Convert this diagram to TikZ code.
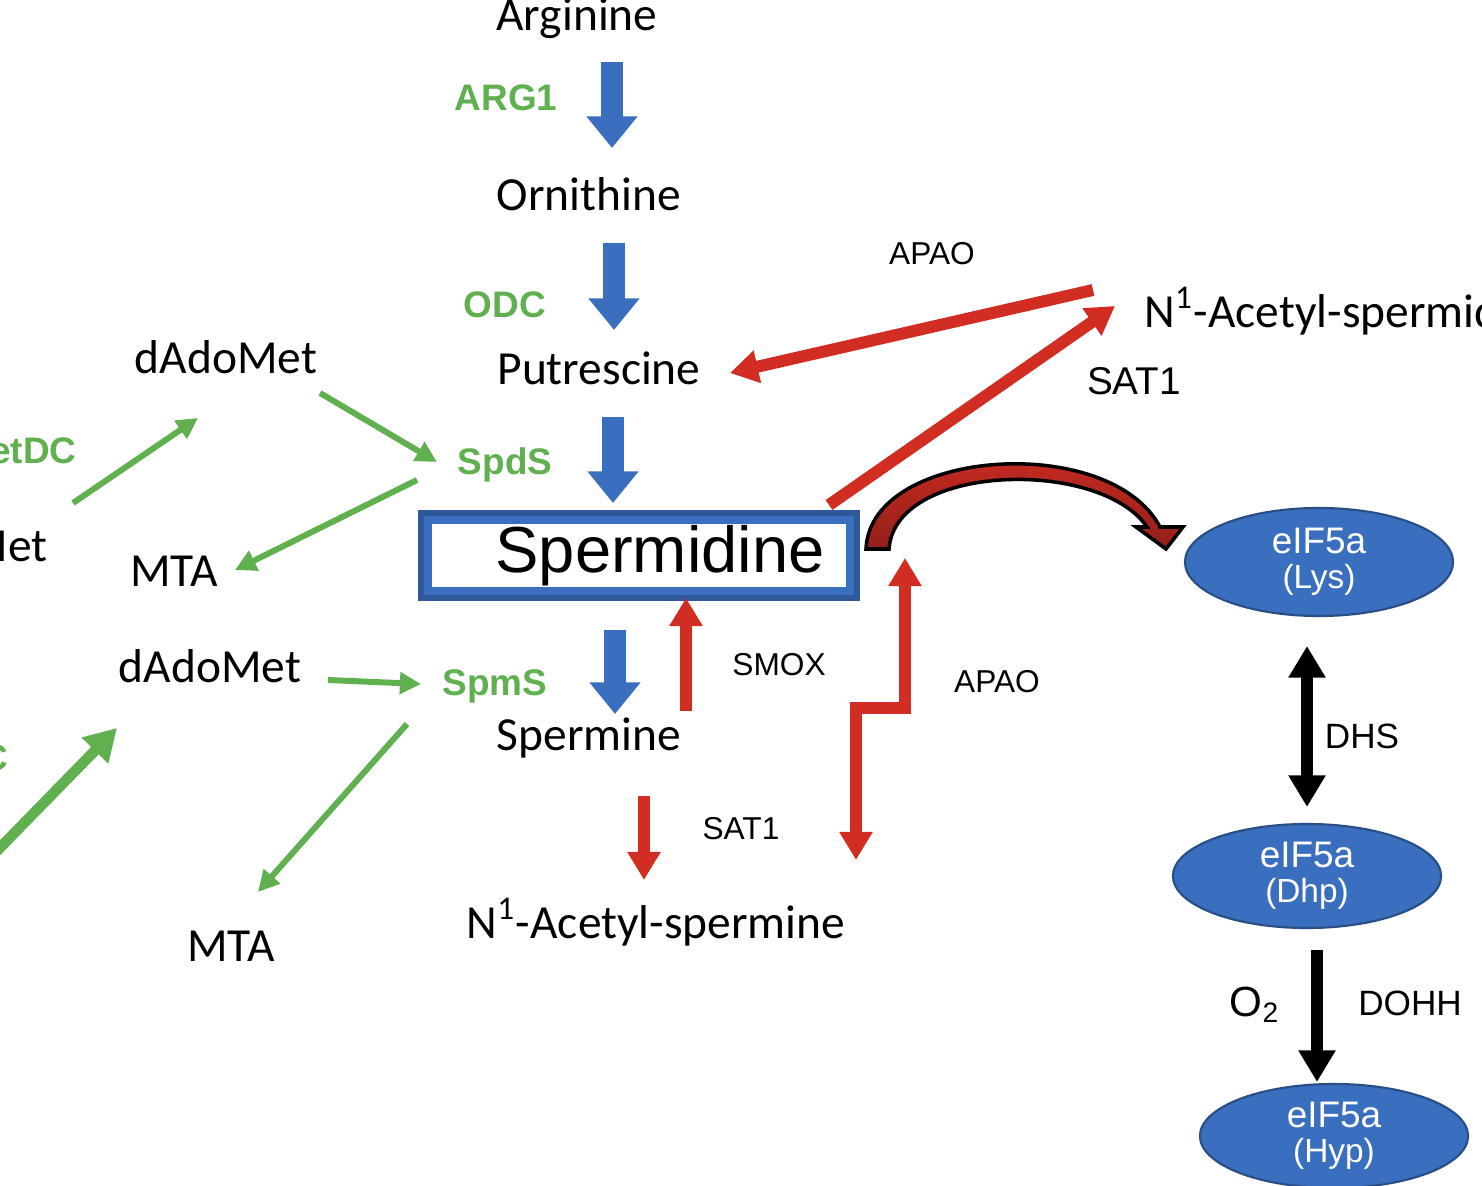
\documentclass[tikz,border=0pt]{standalone}
\usepackage{fontspec}
\setmainfont{Carlito}
\newfontfamily\arialf{Liberation Sans}
\usetikzlibrary{arrows.meta}
\definecolor{pblue}{RGB}{58,110,190}
\definecolor{pred}{RGB}{210,45,35}
\definecolor{pgreen}{RGB}{96,176,80}
\tikzset{
  met/.style={font=\fontsize{13.5}{15}\selectfont},
  enz/.style={font=\arialf\bfseries\fontsize{10.5}{12}\selectfont,text=pgreen},
  lab/.style={font=\arialf\fontsize{9}{11}\selectfont},
  bluearr/.style={pblue,line width=6.3pt,-{Triangle[width=14pt,length=9pt]}},
  redarr/.style={pred,line width=3.4pt,-{Triangle[width=9pt,length=8pt]}},
  grnarr/.style={pgreen,line width=1.7pt,-{Triangle[width=6pt,length=6pt]}},
  blkarr/.style={black,line width=3.4pt,-{Triangle[width=10pt,length=9pt]}},
  eif/.style={ellipse,fill=pblue,draw=pblue!70!black,line width=0.6pt,text=white,
    minimum width=2.68cm,minimum height=1.08cm,align=center,inner sep=0pt,
    font=\arialf\fontsize{10.5}{11}\selectfont}
}
\usetikzlibrary{shapes.geometric}
\begin{document}
\begin{tikzpicture}[x=0.01cm,y=-0.01cm]
\useasboundingbox (0,0) rectangle (1482,1186);
\clip (0,0) rectangle (1482,1186);
% main pathway
\node[met] (arg) at (577,18) {Arginine};
\node[met] (orn) at (589,194) {Ornithine};
\node[met] (put) at (599,368) {Putrescine};
\node[met] (spm) at (589,738) {Spermine};
\node[met] (acspm) at (656,922) {N\textsuperscript{1}-Acetyl-spermine};
\node[met,anchor=west] (acspd) at (1132,311) {N\textsuperscript{1}-Acetyl-spermidine};
\node[enz] (arg1) at (506,98) {ARG1};
\node[enz] (odc) at (505,305) {ODC};
\node[enz] (spds) at (505,465) {SpdS};
\node[enz] (spms) at (495,686) {SpmS};
\draw[pblue!80!black,line width=3pt,fill=white] (423,515) rectangle (855,596);
\draw[pblue,line width=2pt] (428,520) rectangle (850,591);
\node[font=\arialf\fontsize{18.5}{20}\selectfont] (spd) at (660,556) {Spermidine};
\foreach \a/\b/\c in {62/148/612,243/330/614,417/503/613,630/714/615}
  \draw[bluearr] (\c,\a) -- (\c,\b);
% back-conversion
\coordinate (smoxs) at (686,711); \coordinate (smoxe) at (686,598);
\draw[redarr] (smoxs) -- (smoxe);
\node[lab] (smox) at (779,665) {SMOX};
\coordinate (sat1s) at (644,796); \coordinate (sat1e) at (644,880);
\draw[redarr] (sat1s) -- (sat1e);
\node[lab] (sat1a) at (741,829) {SAT1};
\coordinate (apaoa) at (856,860); \coordinate (apaob) at (905,558);
\draw[redarr,{Triangle[width=9pt,length=8pt]}-{Triangle[width=9pt,length=8pt]},line join=miter]
  (apaoa) -- (856,708) -- (905,708) -- (apaob);
\node[lab] (apao1) at (997,682) {APAO};
\coordinate (apaoc) at (1093,290); \coordinate (apaod) at (730,373);
\draw[redarr] (apaoc) -- (apaod);
\node[lab] (apao2) at (932,254) {APAO};
\coordinate (sat1c) at (829,505); \coordinate (sat1d) at (1115,306);
\draw[redarr] (sat1c) -- (sat1d);
\node[lab,font=\arialf\fontsize{11}{12}\selectfont] (sat1b) at (1134,381) {SAT1};
% curved arrow
\draw[black,line width=1pt,top color=pred,bottom color=pred!70!black]
  (866,549) .. controls (870,448) and (1110,432) .. (1160,527)
  -- (1183,527) -- (1166,549) -- (1136,527) -- (1147,527)
  .. controls (1100,458) and (895,463) .. (889,549) -- cycle;
% eIF5a
\node[eif] (lys) at (1319,562) {eIF5a\\[-1pt]{\fontsize{9.5}{10}\selectfont(Lys)}};
\node[eif,minimum height=1.04cm] (dhp) at (1307,876) {eIF5a\\[-1pt]{\fontsize{9.5}{10}\selectfont(Dhp)}};
\node[eif,minimum height=1.04cm] (hyp) at (1334,1136) {eIF5a\\[-1pt]{\fontsize{9.5}{10}\selectfont(Hyp)}};
\draw[blkarr,{Triangle[width=10pt,length=9pt]}-{Triangle[width=10pt,length=9pt]}] (1307,646) -- (1307,807);
\node[lab,font=\arialf\fontsize{10}{12}\selectfont] (dhs) at (1362,736) {DHS};
\draw[blkarr] (1317,950) -- (1317,1082);
\node[font=\arialf\fontsize{12}{14}\selectfont] (o2) at (1255,1005) {O\textsubscript{2}};
\node[lab,font=\arialf\fontsize{10}{12}\selectfont] (dohh) at (1410,1003) {DOHH};
% aminopropyl donors
\node[met] (dam1) at (226,357) {dAdoMet};
\node[met] (mta1) at (174,571) {MTA};
\node[met] (dam2) at (210,666) {dAdoMet};
\node[met] (mta2) at (231,946) {MTA};
\node[enz,anchor=east] (amd1) at (89,450) {AdoMetDC};
\node[met,anchor=east] (sam1) at (60,545) {AdoMet};
\node[enz,anchor=east] (amd2) at (21,757) {AdoMetDC};
\coordinate (g1) at (320,393); \coordinate (g2) at (437,462);
\coordinate (g3) at (417,480); \coordinate (g4) at (235,570);
\coordinate (g5) at (73,503); \coordinate (g6) at (198,418);
\coordinate (g7) at (328,680); \coordinate (g8) at (421,684);
\coordinate (g9) at (407,724); \coordinate (g10) at (258,892);
\coordinate (g11) at (-10,858); \coordinate (g12) at (117,728);
\draw[grnarr] (g1) -- (g2);
\draw[grnarr] (g3) -- (g4);
\draw[grnarr] (g5) -- (g6);
\draw[grnarr] (g7) -- (g8);
\draw[grnarr] (g9) -- (g10);
\draw[grnarr,line width=3pt,-{Triangle[width=10pt,length=9pt]}] (g11) -- (g12);
\end{tikzpicture}
\end{document}
